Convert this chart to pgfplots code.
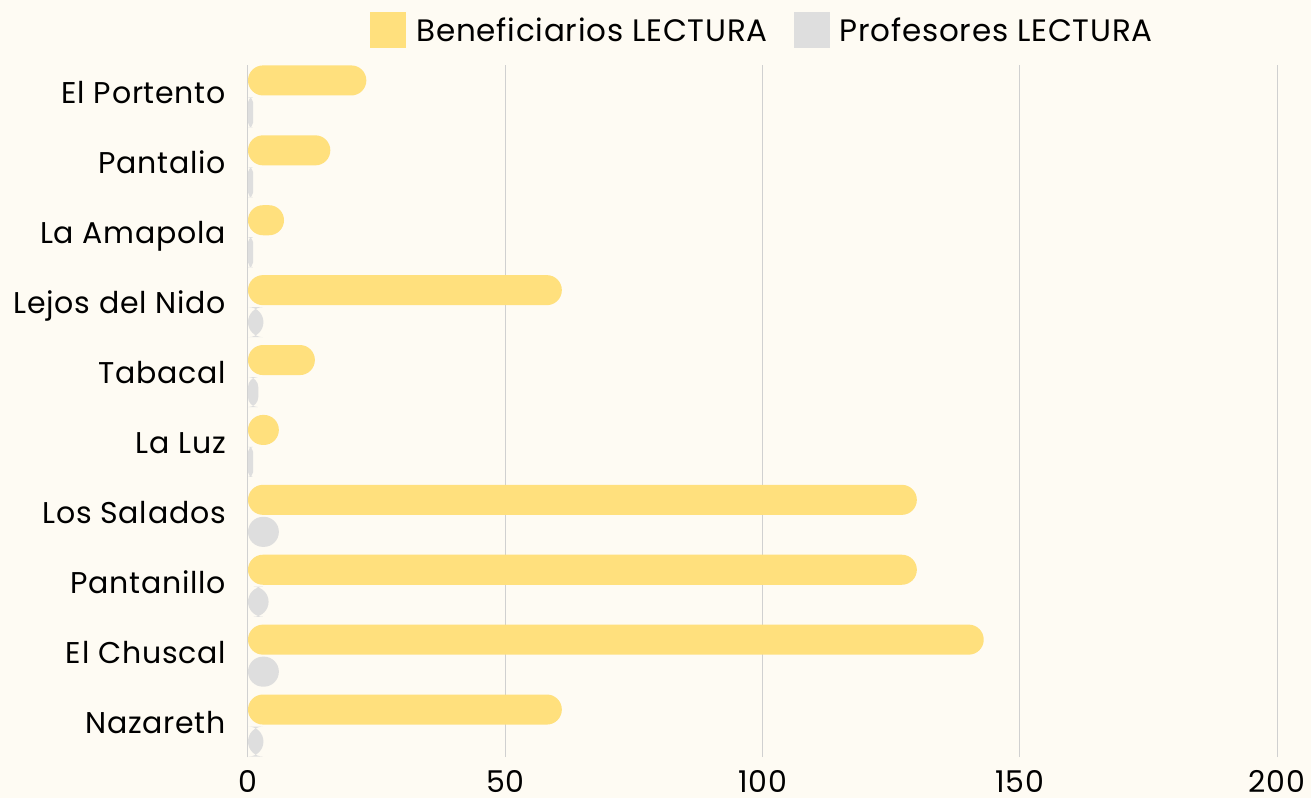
\documentclass[border=0pt]{standalone}
\usepackage{fontspec}
\setmainfont{Poppins}[LetterSpace=2.5]
\usepackage{pgfplots}
\pgfplotsset{compat=1.18}
\definecolor{bg}{RGB}{254,251,243}
\definecolor{yel}{RGB}{255,224,125}
\definecolor{gry}{RGB}{222,222,222}
\definecolor{gridc}{RGB}{208,208,208}
\definecolor{zeroc}{RGB}{120,120,120}
\begin{document}
\begin{tikzpicture}
\fill[bg] (-248pt,-41pt) rectangle (1063pt,757pt);
\begin{axis}[
  at={(0pt,0pt)}, anchor=south west,
  scale only axis, width=1029pt, height=692pt,
  xbar, bar width=0.43,
  x coord trafo/.code={\pgfmathparse{#1+8}},
  x coord inv trafo/.code={\pgfmathparse{#1-8}},
  xmin=0, xmax=200,
  ymin=-0.45, ymax=9.45,
  xtick={0,50,100,150,200},
  ytick={0,...,9},
  yticklabels={Nazareth, El Chuscal, Pantanillo, Los Salados, La Luz, Tabacal, Lejos del Nido, La Amapola, Pantalio, El Portento},
  axis line style={draw=none},
  major tick length=0pt,
  xmajorgrids,
  major grid style={gridc, line width=1pt},
  extra x ticks={0}, extra x tick labels={},
  extra x tick style={grid style={zeroc, line width=1pt}},
  tick label style={font=\fontsize{30}{34}\selectfont, text=black},
  /pgf/number format/assume math mode=true,
  yticklabel style={anchor=base east, inner sep=0pt, xshift=-22pt, yshift=-7.5pt},
  xticklabel style={anchor=base, inner sep=0pt, yshift=-35pt},
  legend style={at={(0.5,1)}, anchor=center, yshift=35pt, draw=none, fill=none,
    legend columns=2, font=\fontsize{31}{34}\selectfont,
    /tikz/every even column/.append style={column sep=24pt}},
  legend image code/.code={\fill[#1, sharp corners] (0pt,-18pt) rectangle (36pt,18pt); \path (44pt,0pt);},
]
\addplot[fill=yel, draw=none, rounded corners=15pt, bar shift=0.229] coordinates {(23,9) (16,8) (7,7) (61,6) (13,5) (6,4) (130,3) (130,2) (143,1) (61,0)};
\addplot[fill=gry, draw=none, rounded corners=15pt, bar shift=-0.229] coordinates {(3,6) (6,3) (4,2) (6,1) (3,0)};
\addplot[forget plot, fill=gry, draw=none, rounded corners=10pt, bar shift=-0.229] coordinates {(2,5)};
\addplot[forget plot, fill=gry, draw=none, rounded corners=5pt, bar shift=-0.229] coordinates {(1,9) (1,8) (1,7) (1,4)};
\legend{Beneficiarios LECTURA, Profesores LECTURA}
\end{axis}
\end{tikzpicture}
\end{document}
